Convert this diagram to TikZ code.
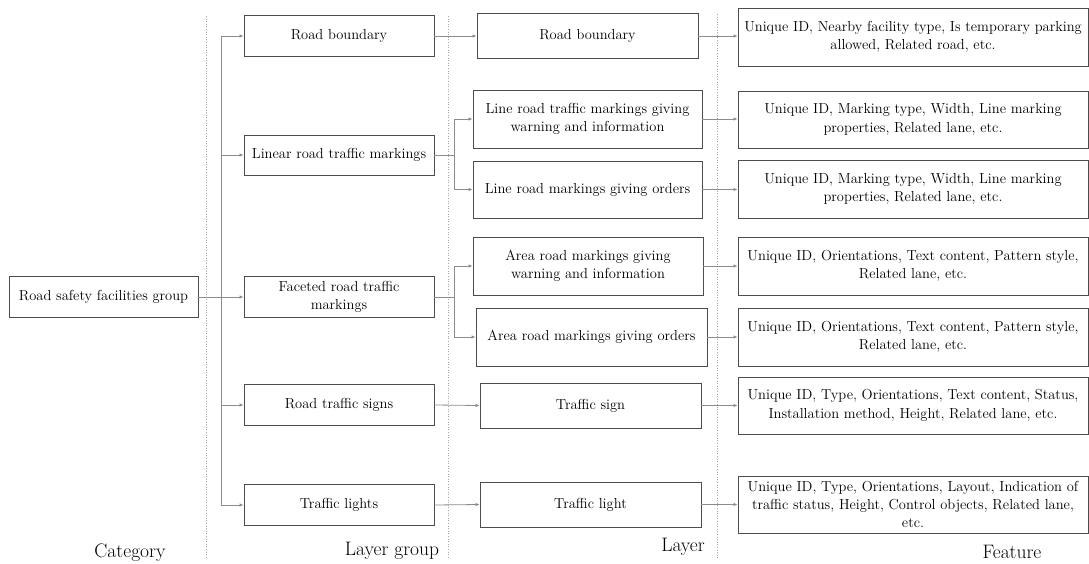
\documentclass[tikz,border=0pt]{standalone}
\usetikzlibrary{arrows.meta}
\begin{document}
\begin{tikzpicture}[x=1pt,y=-1pt,
  box/.style={draw=black!70, line width=0.9pt, inner sep=0pt, align=center,
    font=\rmfamily\fontsize{14.5}{18.3}\selectfont, text=black},
  conn/.style={draw=black!45, line width=0.8pt},
  arr/.style={conn, -{Latex[length=4pt,width=3.5pt]}},
  sep/.style={draw=black!35, line width=0.6pt, dotted},
  lbl/.style={font=\rmfamily\fontsize{19.5}{22}\selectfont, text=black, inner sep=0pt}]
\useasboundingbox (0,0) rectangle (1089,564);
% separators
\coordinate (s1t) at (206,16); \coordinate (s1b) at (206,558);
\coordinate (s2t) at (448,16); \coordinate (s2b) at (448,558);
\coordinate (s3t) at (717,14); \coordinate (s3b) at (717,558);
\draw[sep] (s1t) -- (s1b);
\draw[sep] (s2t) -- (s2b);
\draw[sep] (s3t) -- (s3b);
% category
\node[box, minimum width=189pt, minimum height=41pt] (cat) at (103.5,297) {Road safety facilities group};
% layer groups
\node[box, minimum width=190pt, minimum height=41pt] (lg1) at (339,36) {Road boundary};
\node[box, minimum width=190pt, minimum height=40pt] (lg2) at (339,155) {Linear road traffic markings};
\node[box, minimum width=190pt, minimum height=41pt] (lg3) at (339,297) {Faceted road traffic\\markings};
\node[box, minimum width=190pt, minimum height=41pt] (lg4) at (339,405) {Road traffic signs};
\node[box, minimum width=190pt, minimum height=41pt] (lg5) at (339,505) {Traffic lights};
% layers
\node[box, minimum width=221pt, minimum height=45pt] (l1) at (587.5,36) {Road boundary};
\node[box, minimum width=229pt, minimum height=58pt] (l2) at (587.5,119) {Line road traffic markings giving\\warning and information};
\node[box, minimum width=229pt, minimum height=57pt] (l3) at (587.5,189.5) {Line road markings giving orders};
\node[box, minimum width=230pt, minimum height=58pt] (l4) at (588,266) {Area road markings giving\\warning and information};
\node[box, minimum width=231pt, minimum height=58pt] (l5) at (591.5,337) {Area road markings giving orders};
\node[box, minimum width=221pt, minimum height=45pt] (l6) at (590.5,405.5) {Traffic sign};
\node[box, minimum width=221pt, minimum height=45pt] (l7) at (590.5,504.5) {Traffic light};
% features
\node[box, minimum width=350pt, minimum height=58pt] (f1) at (913,37) {Unique ID, Nearby facility type, Is temporary parking\\allowed, Related road, etc.};
\node[box, minimum width=350pt, minimum height=57pt] (f2) at (913,119.5) {Unique ID, Marking type, Width, Line marking\\properties, Related lane, etc.};
\node[box, minimum width=350pt, minimum height=58pt] (f3) at (913,189) {Unique ID, Marking type, Width, Line marking\\properties, Related lane, etc.};
\node[box, minimum width=350pt, minimum height=58pt] (f4) at (913,266) {Unique ID, Orientations, Text content, Pattern style,\\Related lane, etc.};
\node[box, minimum width=350pt, minimum height=58pt] (f5) at (913,337) {Unique ID, Orientations, Text content, Pattern style,\\Related lane, etc.};
\node[box, minimum width=350pt, minimum height=57pt] (f6) at (913,405.5) {Unique ID, Type, Orientations, Text content, Status,\\Installation method, Height, Related lane, etc.};
\node[box, minimum width=350pt, minimum height=57pt] (f7) at (913,504.5) {Unique ID, Type, Orientations, Layout, Indication of\\traffic status, Height, Control objects, Related lane,\\etc.};
% trunk
\coordinate (tt) at (221,36);
\coordinate (tb) at (221,505);
\draw[conn] (tt) -- (tb);
\draw[conn] (cat.east) -- (tt |- cat.east);
\foreach \n in {lg1,lg2,lg3,lg4,lg5} \draw[arr] (tt |- \n.west) -- (\n.west);
% branches
\coordinate (b1) at (454,155);
\coordinate (b2) at (454,297);
\draw[conn] (lg2.east) -- (b1);
\draw[conn] (b1 |- l2.west) -- (b1 |- l3.west);
\draw[arr] (b1 |- l2.west) -- (l2.west);
\draw[arr] (b1 |- l3.west) -- (l3.west);
\draw[conn] (lg3.east) -- (b2);
\draw[conn] (b2 |- l4.west) -- (b2 |- l5.west);
\draw[arr] (b2 |- l4.west) -- (l4.west);
\draw[arr] (b2 |- l5.west) -- (l5.west);
\draw[arr] (lg1.east) -- (l1.west);
\draw[arr] (lg4.east) -- (l6.west);
\draw[arr] (lg5.east) -- (l7.west);
% layer to feature
\draw[arr] (l1.east) -- (f1.west |- l1.east);
\draw[arr] (l2.east) -- (f2.west |- l2.east);
\draw[arr] (l3.east) -- (f3.west |- l3.east);
\draw[arr] (l4.east) -- (f4.west |- l4.east);
\draw[arr] (l5.east) -- (f5.west |- l5.east);
\draw[arr] (l6.east) -- (f6.west |- l6.east);
\draw[arr] (l7.east) -- (f7.west |- l7.east);
% labels
\node[lbl] (c1) at (130,553) {Category};
\node[lbl] (c2) at (392,551) {Layer group};
\node[lbl] (c3) at (683,547) {Layer};
\node[lbl] (c4) at (1012,552) {Feature};
\end{tikzpicture}
\end{document}
